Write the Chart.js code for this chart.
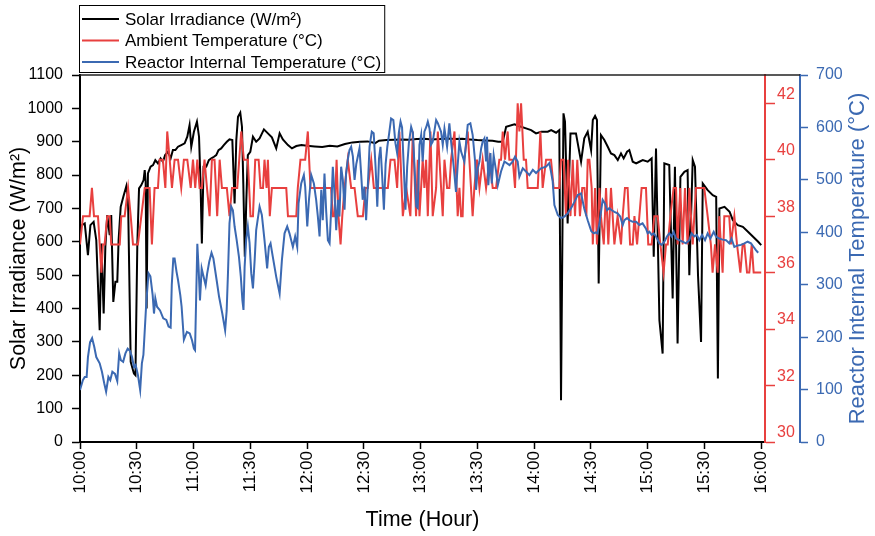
<!DOCTYPE html>
<html>
<head>
<meta charset="utf-8">
<title>Solar irradiance and temperatures</title>
<script src="https://cdn.jsdelivr.net/npm/chart.js@4.4.1/dist/chart.umd.min.js"></script>
<style>
  html, body { margin: 0; padding: 0; background: #fff; }
  canvas { display: block; }
</style>
</head>
<body>
<canvas id="chart" width="875" height="536"></canvas>
<script>
// time is in minutes after 10:00
const solarTime = [0,1,2.5,4.2,5.5,7.2,8.6,10.4,11.3,12.5,13.4,14.4,15.7,16.5,17.6,18.7,19.7,20.4,21.5,22.9,24.5,25.4,26.8,28.5,29.3,30.3,31.2,32.4,33.6,34.2,34.7,35.2,35.9,37.3,38.6,39.8,41.2,42.6,43.8,45,46.5,47.9,49.1,50.4,51.8,53.5,55.3,56.7,57.9,58.8,60.2,61.8,62.9,63.7,64.4,65.3,66.7,68.1,69.4,70.8,72,73.2,74.6,76,77.6,79,80.5,81.7,82.6,83.5,84.7,85.6,86.3,87.1,87.9,88.7,90,91.4,93.1,94.9,97.2,99.3,101.4,103.7,105.5,107.2,109.9,112,114.3,117,120,124,128,132,136,140,144,148,152,156,158,162,166,170,174,178,182,186,190,194,198,202,206,210,214,218,221,223.4,225.2,229.6,233.1,235.7,238.4,241,243.7,247.2,249,251.6,253.3,254.2,255.5,256.3,257.7,259.2,262.1,264.8,266.5,268.3,270.1,271,272.2,273.2,274.1,275.3,277.1,278.9,280.6,282.4,284.2,285.9,287.3,289.1,290.3,292.1,293.9,295.6,297.4,300,302.1,303.2,304.4,306.2,307.9,308.8,311.4,313.2,314.4,315.8,317.3,319.4,321.1,322,323.8,325,326.6,328.2,329.1,331.7,334.4,336.2,337.1,337.9,340.6,343.3,345,347.6,350.3,353,355.7,358.4,360]
const solarValue = [640,650,655,560,650,660,605,335,595,385,585,680,620,680,420,480,480,605,705,735,767,725,240,205,200,595,760,770,785,815,780,400,805,825,830,845,835,850,840,860,870,850,875,875,885,890,895,915,950,885,930,960,915,775,595,825,825,845,850,855,860,875,880,890,900,907,905,715,905,975,987,945,775,555,725,860,870,915,900,910,937,925,913,880,925,907,890,880,887,890,888,886,884,888,886,893,898,900,901,896,903,905,906,907,906,908,909,907,908,910,908,909,907,905,904,903,900,900,945,952,945,940,935,925,930,930,935,927,935,125,985,960,655,925,925,840,910,930,875,965,977,965,475,920,905,885,865,860,845,865,850,870,875,840,835,840,845,840,850,555,880,365,265,835,830,430,825,295,795,810,815,500,845,825,500,300,775,755,740,735,190,700,705,690,665,650,645,630,615,600,590]

const ambientTime = [0,1.6,5.1,6.3,7.4,9.5,10.4,11.3,12.1,13,14.4,15.7,16.5,21,21.8,23.6,25.4,26.8,28,30.6,32.4,34.2,36.8,38,39.4,41.2,42.1,43.8,45.1,46.1,47.4,48.6,50,51.8,53.5,54.9,56.7,58.5,59.7,60.9,62,63.2,64.4,65.8,67.1,68.5,69.7,71.1,72.5,73.8,75,77.6,79,80.3,83.1,85.2,86.6,88.7,90.1,91.4,92.6,94.4,95.4,96.7,97.5,98.6,99.3,100.3,101.4,109,109.9,114.3,115.1,116.5,119,120.4,121.8,132.7,133.6,134.5,135.6,136.6,137.7,138.6,139.8,141.5,143.3,145.1,146.8,149.5,150.9,152.1,153.9,155.3,162.7,164.1,166.2,167.6,168.8,170.6,172.4,174.6,175.9,177.6,178.5,179.4,181.1,182,182.9,183.8,185.2,186.4,188.2,189.1,191.7,192.6,194,195.2,196.1,197.9,199.6,200.5,201.4,202.2,203.1,204.9,207.5,208.4,209.8,211.1,212.8,214.6,216.4,218.1,219.9,221.6,222.5,223.4,224.6,226,226.9,228.7,229.9,231.3,232.2,233.1,234.5,235.7,236.6,241.9,243.3,244.5,246.3,248.9,250.3,253.3,254.2,255.6,256.8,258,259.2,260.4,261.6,262.8,264.2,265.4,266.6,267.6,268.3,269.2,270.4,271,272.2,273.2,274.5,275.3,276.8,278,279.2,280.6,282.4,284.1,285.9,286.8,288,289.4,290.7,292.1,293,294.4,296.8,299.1,300.3,302.1,303.5,305.3,306.7,308.4,309.7,310.6,312,313.7,315,315.8,317.2,318.5,319.7,321.1,322,323.8,325.5,329.9,331.7,333.4,334.3,335.6,337,337.8,339.6,340.5,343.1,344,345.8,347.2,349,350.2,351.1,352.5,353.7,355,356,360]
const ambientValue = [37,38,38,39,38,38,37,36,37,37,38,38,37,37,38,38,39,38,37,37,38,39,39,37,39,39,40,40,39,41,40,39,40,40,39,40,40,39,40,39,40,39,39,40,39,38,40,40,38,40,39,39,38,39,39,41,40,40,38,38,40,40,39,39,40,39,40,38,39,39,38,38,39,40,40,41,39,39,38,38,40,38,37,38,39,40,39,39,38,38,39,39,40,39,39,40,40,39,41,38,39,38,41,38,40,38,40,39,40,38,41,38,39,41,38,40,39,39,40,41,38,39,38,38,40,41,38,39,40,39,40,39,40,39,39,40,40,41,40,41,40,40,39,42,41,42,40,40,39,39,41,39,40,40,39,39,40,40,38,40,38,40,38,40,38,39,39,38,40,40,39,37,39,37,39,38,37,39,37,39,37,38,37,38,39,39,37,37,38,37,39,39,37,37,38,38,37,36,37,37,38,39,39,37,39,37,39,37,39,37,39,39,38,37,36,37,36,38,36,38,38,37,38,37,36,37,37,36,36,37,36,36]

const reactorTime = [0,1.5,2.5,3.5,4.2,5.3,6.4,7.5,8.6,10.4,11.6,12.8,13.8,15,16,17.1,18.5,19.7,20.7,21.6,22.8,24,25.2,26.4,27.5,28.5,29.4,30.6,31.8,32.7,33.5,35,36.2,37.2,38.4,39.1,39.8,40.7,42.3,44,45.6,46.8,47.9,48.5,49.3,50,51,51.8,53,53.7,54.9,56.5,58,59.2,60.2,60.8,62,62.7,63.4,64.3,65,66.4,67.2,68.3,69.5,70.5,72.2,73.5,75.2,76.7,77.5,78.2,79,79.9,80.8,81.7,82.8,84,85,85.8,86.4,87,87.8,88.7,89.6,90.5,91.4,92.3,93.1,94.9,96.1,97.5,98.9,99.8,100.7,101.9,103.7,105.5,106.7,108.1,109.5,110.7,112.5,113.7,114.8,115.5,116.9,118.3,119,120.1,121,122.2,123.6,124.8,125.7,126.6,127.5,128.3,129.2,130.1,131,131.9,132.8,133.6,134.5,135.4,136.3,137.1,138,138.9,139.8,140.6,141.5,142.4,143.3,144.2,145.1,146,146.8,147.7,148.6,149.4,150.3,151.2,152.1,153,154.2,155.2,156.2,157.1,158,158.8,159.7,160.6,161.5,162.4,163.4,164.4,165.6,166.7,167.6,168.5,169.4,170.2,171.1,172,172.9,173.8,175,175.9,176.8,177.7,178.5,179.4,180.3,181.1,182,183,183.8,184.7,185.5,186.4,188.2,189.1,190.8,191.7,192.6,194,195.2,196.1,197.5,198.7,199.6,200.5,201.4,203.1,204.9,206.3,207.5,208.8,209.3,210.2,211.1,212,212.8,213.7,214.6,215.1,215.8,216.9,217.6,218.6,219.9,220.8,222.5,224.3,227,228.7,229.9,231.3,232.2,234,235.7,237.5,239.3,241,243.6,246.3,248,248.9,249.8,250.7,252.5,254.2,256,257.7,259.5,261.3,263,264.8,266.5,268.3,270.2,271.5,272.5,273.5,274.5,276.2,277.4,278.5,279.7,281,282.4,284.1,285.5,286.8,287.7,289.1,290.3,292.1,293.9,295.6,297.3,299.1,300,300.9,302.1,303.2,304.4,306.2,307.4,308.8,310.2,311.4,312.7,313.7,315,316.7,318.5,320.2,322,323.2,324.6,326,327.3,328.7,330.3,331.7,333.1,334.9,336.1,337.8,339.6,341.4,343.1,344.3,345.8,347.6,349.3,351.1,352.8,354.6,356,357.2,358.4]
const reactorValue = [99,118,124,124,162,190,198,182,162,150,134,112,96,124,118,134,130,116,169,156,153,169,178,174,162,143,147,128,99,150,166,264,322,316,280,245,274,258,251,236,233,220,218,300,350,350,325,309,280,258,195,210,207,194,178,175,378,330,270,331,320,299,321,344,361,350,309,277,245,213,250,322,417,449,442,411,385,353,315,271,252,334,385,411,380,322,293,347,404,449,433,385,331,372,379,353,315,283,347,398,411,398,372,392,372,455,493,509,487,411,462,509,493,462,430,392,481,423,512,440,385,379,449,525,474,404,462,430,525,500,443,512,538,557,563,545,500,530,544,560,510,462,487,423,487,563,592,589,525,449,540,563,506,443,530,563,589,617,614,570,551,590,611,600,525,443,525,570,601,590,525,449,446,567,586,535,592,601,611,598,567,573,614,608,592,567,598,563,608,573,525,477,528,573,554,535,605,608,586,535,481,522,535,560,573,579,535,582,490,551,493,547,516,490,516,535,528,535,544,535,506,522,516,509,519,513,522,525,532,516,497,452,433,427,430,436,446,458,471,474,445,423,402,398,400,398,417,462,455,442,446,442,439,436,430,414,423,427,423,420,420,414,417,407,398,401,395,398,392,379,376,382,392,398,392,401,388,385,382,379,385,398,392,395,385,395,385,398,388,401,392,388,386,385,379,388,372,375,376,379,382,379,372,366,361]

const timeTicks = [0, 30, 60, 90, 120, 150, 180, 210, 240, 270, 300, 330, 360]
const timeTickLabels = ['10:00', '10:30', '11:00', '11:30', '12:00', '12:30', '13:00', '13:30', '14:00', '14:30', '15:00', '15:30', '16:00']
const ambientTicks = [30, 32, 34, 36, 38, 40, 42]

const BLACK = '#000000'
const RED = '#e8403f'
const BLUE = '#3b69b2'
const FONT = "'Liberation Sans', Arial, sans-serif"

function pairs(times, values) {
	return times.map((t, i) => ({ x: t, y: values[i] }))
}

// boxed legend above the plot, top border and the upward-reading right title
const decorations = {
	id: 'decorations',
	afterDraw(chart) {
		const ctx = chart.ctx
		const area = chart.chartArea
		const reac = chart.scales.yReac

		ctx.save()
		ctx.strokeStyle = '#222'
		ctx.lineWidth = 1.5
		ctx.beginPath()
		ctx.moveTo(area.left, area.top)
		ctx.lineTo(reac.left, area.top)
		ctx.stroke()

		// legend
		ctx.font = '17px ' + FONT
		ctx.textBaseline = 'middle'
		const items = chart.data.datasets
		const textX = area.left + 45
		let widest = 0
		items.forEach(d => { widest = Math.max(widest, ctx.measureText(d.label).width) })
		ctx.lineWidth = 1
		ctx.strokeStyle = '#000'
		ctx.strokeRect(area.left - 0.5, 5.5, textX + widest + 4 - area.left, 67)
		items.forEach((d, i) => {
			const y = 19 + i * 21.5
			ctx.strokeStyle = d.borderColor
			ctx.lineWidth = 2
			ctx.beginPath()
			ctx.moveTo(area.left + 2, y)
			ctx.lineTo(area.left + 39, y)
			ctx.stroke()
			ctx.fillStyle = '#000'
			ctx.fillText(d.label, textX, y + 1)
		})

		// reactor axis title
		ctx.translate(reac.left + 58, (reac.top + reac.bottom) / 2)
		ctx.rotate(-Math.PI / 2)
		ctx.textAlign = 'center'
		ctx.font = '22px ' + FONT
		ctx.fillStyle = BLUE
		ctx.fillText('Reactor Internal Temperature (°C)', 0, 0)
		ctx.restore()
	}
}

new Chart(document.getElementById('chart'), {
	type: 'line',
	data: {
		datasets: [
			{ label: 'Solar Irradiance (W/m²)', data: pairs(solarTime, solarValue), borderColor: BLACK, yAxisID: 'y', order: 3 },
			{ label: 'Ambient Temperature (°C)', data: pairs(ambientTime, ambientValue), borderColor: RED, yAxisID: 'yAmb', order: 2 },
			{ label: 'Reactor Internal Temperature (°C)', data: pairs(reactorTime, reactorValue), borderColor: BLUE, yAxisID: 'yReac', order: 1 }
		]
	},
	options: {
		responsive: false,
		animation: false,
		layout: { padding: { top: 75, left: 0, right: 0, bottom: 0 } },
		elements: {
			point: { radius: 0 },
			line: { borderWidth: 2, tension: 0 }
		},
		plugins: { legend: { display: false }, tooltip: { enabled: false } },
		scales: {
			x: {
				type: 'linear',
				min: 0,
				max: 362,
				afterBuildTicks: s => { s.ticks = timeTicks.map(v => ({ value: v })) },
				afterFit: s => { s.height = 94 },
				ticks: {
					autoSkip: false, minRotation: 90, maxRotation: 90, padding: 2,
					color: '#000', font: { family: FONT, size: 17 },
					callback: (v, i) => timeTickLabels[i]
				},
				grid: { drawOnChartArea: false, tickLength: 7, tickWidth: 1.5, color: '#000' },
				border: { color: '#000', width: 2 },
				title: { display: true, text: 'Time (Hour)', color: '#000', font: { family: FONT, size: 21.5 }, padding: { top: 0, bottom: 3 } }
			},
			y: {
				position: 'left',
				min: 0,
				max: 1100,
				afterFit: s => { s.width = 80 },
				ticks: { stepSize: 100, autoSkip: false, padding: 9, color: '#000', font: { family: FONT, size: 16 }, callback: v => String(v) },
				grid: { drawOnChartArea: false, tickLength: 8, tickWidth: 1.5, color: '#000' },
				border: { color: '#000', width: 2 },
				title: { display: true, text: 'Solar Irradiance (W/m²)', color: '#000', font: { family: FONT, size: 21.5 }, padding: { top: 6, bottom: 0 } }
			},
			yAmb: {
				position: 'right',
				weight: 0,
				min: 30,
				max: 43,
				afterBuildTicks: s => { s.ticks = ambientTicks.map(v => ({ value: v })) },
				afterFit: s => { s.width = 35 },
				ticks: { autoSkip: false, padding: 2, labelOffset: -9, color: RED, font: { family: FONT, size: 16 }, callback: v => String(v) },
				grid: { drawOnChartArea: false, tickLength: 10, tickWidth: 1.5, color: RED },
				border: { color: RED, width: 2 }
			},
			yReac: {
				position: 'right',
				weight: 1,
				min: 0,
				max: 700,
				afterFit: s => { s.width = 75 },
				ticks: { stepSize: 100, autoSkip: false, padding: 8, color: BLUE, font: { family: FONT, size: 16 }, callback: v => String(v) },
				grid: { drawOnChartArea: false, tickLength: 8, tickWidth: 1.5, color: BLUE },
				border: { color: BLUE, width: 2 }
			}
		}
	},
	plugins: [decorations]
})
</script>
</body>
</html>
